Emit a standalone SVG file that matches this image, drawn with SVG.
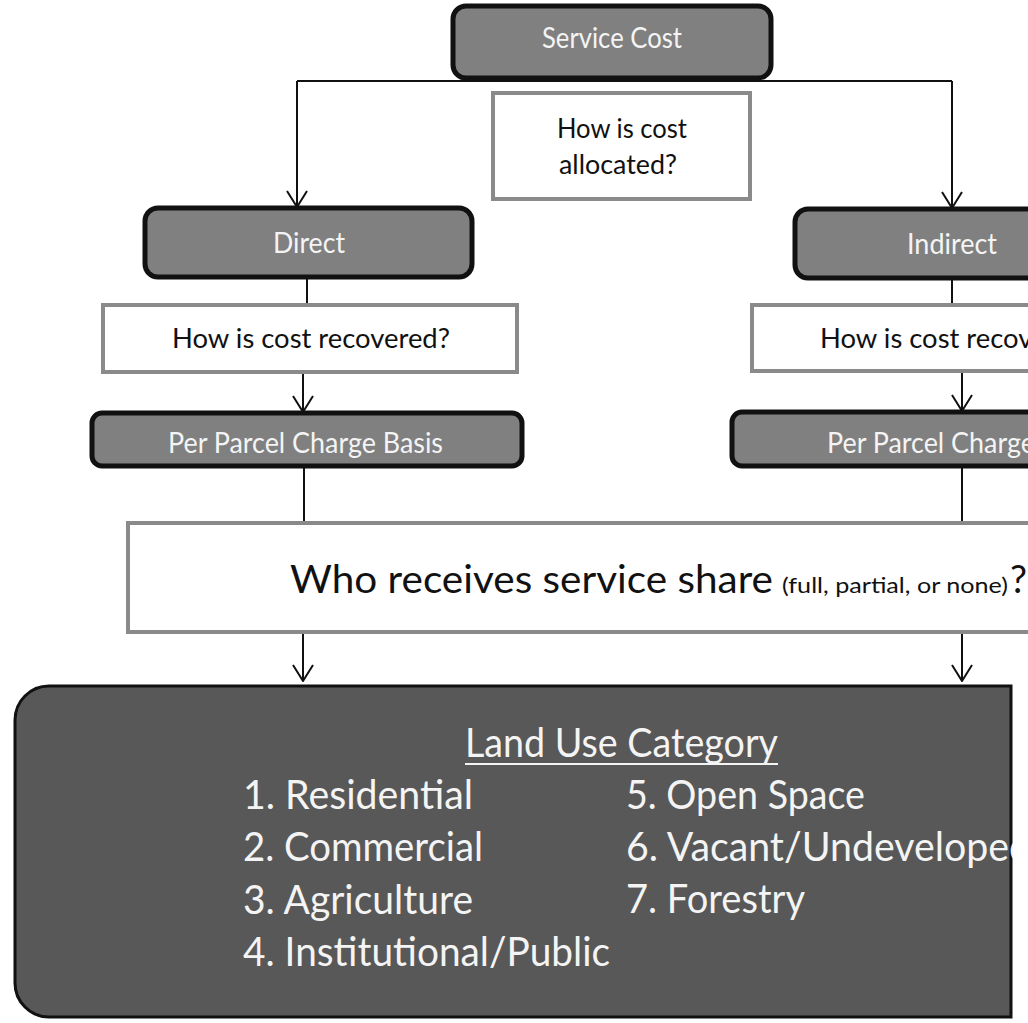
<svg xmlns="http://www.w3.org/2000/svg" width="1028" height="1023" viewBox="0 0 1028 1023">
<style>
  .dark { fill: #808080; stroke: #111; stroke-width: 5; }
  .q { fill: #ffffff; stroke: #8a8a8a; stroke-width: 4; }
  .wt { font-family: Lato, 'Open Sans', sans-serif; fill: #f4f4f4; }
  .bt { font-family: Lato, 'Open Sans', sans-serif; fill: #111; }
  .conn { fill: none; stroke: #111; stroke-width: 2; }
</style>
<defs>
  <marker id="vhead" viewBox="0 0 18 22" refX="17" refY="11" markerWidth="18" markerHeight="22" markerUnits="userSpaceOnUse" orient="auto">
    <path d="M1 1 L17 11 L1 21" fill="none" stroke="#111" stroke-width="2"/>
  </marker>
  <clipPath id="bigclip"><rect x="0" y="680" width="1013" height="343"/></clipPath>
</defs>
<rect width="1028" height="1023" fill="#ffffff"/>

<g id="connectors">
  <path class="conn" d="M297 81 H952"/>
  <path class="conn" d="M297 81 V207" marker-end="url(#vhead)"/>
  <path class="conn" d="M952 81 V208" marker-end="url(#vhead)"/>
  <path class="conn" d="M307 277 V305"/>
  <path class="conn" d="M952 279 V305"/>
  <path class="conn" d="M303 372 V412" marker-end="url(#vhead)"/>
  <path class="conn" d="M962 371 V411" marker-end="url(#vhead)"/>
  <path class="conn" d="M304 466 V523"/>
  <path class="conn" d="M962 466 V523"/>
  <path class="conn" d="M303 632 V681" marker-end="url(#vhead)"/>
  <path class="conn" d="M962 632 V681" marker-end="url(#vhead)"/>
</g>

<g id="service-cost">
  <rect class="dark" x="453" y="6" width="318" height="72" rx="13"/>
  <text class="wt" x="542" y="48" font-size="28" textLength="140" lengthAdjust="spacingAndGlyphs">Service Cost</text>
</g>

<g id="how-allocated">
  <rect class="q" x="493" y="93" width="257" height="106"/>
  <text class="bt" x="557" y="138" font-size="26" textLength="130" lengthAdjust="spacingAndGlyphs">How is cost</text>
  <text class="bt" x="559" y="174" font-size="26" textLength="118" lengthAdjust="spacingAndGlyphs">allocated?</text>
</g>

<g id="direct">
  <rect class="dark" x="145" y="208" width="327" height="69" rx="13"/>
  <text class="wt" x="273" y="253" font-size="28" textLength="72" lengthAdjust="spacingAndGlyphs">Direct</text>
</g>

<g id="indirect">
  <rect class="dark" x="795" y="209" width="330" height="69" rx="13"/>
  <text class="wt" x="907" y="254" font-size="28" textLength="90" lengthAdjust="spacingAndGlyphs">Indirect</text>
</g>

<g id="how-recovered-direct">
  <rect class="q" x="103" y="305" width="414" height="67"/>
  <text class="bt" x="172" y="348" font-size="27" textLength="278" lengthAdjust="spacingAndGlyphs">How is cost recovered?</text>
</g>

<g id="how-recovered-indirect">
  <rect class="q" x="752" y="305" width="414" height="66"/>
  <text class="bt" x="820" y="348" font-size="27" textLength="278" lengthAdjust="spacingAndGlyphs">How is cost recovered?</text>
</g>

<g id="per-parcel-direct">
  <rect class="dark" x="92" y="413" width="430" height="53" rx="10"/>
  <text class="wt" x="168" y="453" font-size="28" textLength="275" lengthAdjust="spacingAndGlyphs">Per Parcel Charge Basis</text>
</g>

<g id="per-parcel-indirect">
  <rect class="dark" x="732" y="412" width="430" height="54" rx="10"/>
  <text class="wt" x="827" y="453" font-size="28" textLength="275" lengthAdjust="spacingAndGlyphs">Per Parcel Charge Basis</text>
</g>

<g id="who-receives">
  <rect class="q" x="128" y="523" width="960" height="109"/>
  <text class="bt" x="290" y="593" font-size="38" textLength="483" lengthAdjust="spacingAndGlyphs">Who receives service share</text>
  <text class="bt" x="782" y="593" font-size="22" textLength="226" lengthAdjust="spacingAndGlyphs">(full, partial, or none)</text>
  <text class="bt" x="1010" y="593" font-size="38">?</text>
</g>

<g id="land-use-category" clip-path="url(#bigclip)">
  <path d="M49 686 H1011 V1017 H49 A34 34 0 0 1 15 983 V720 A34 34 0 0 1 49 686 Z" fill="#585858" stroke="#111" stroke-width="3"/>
  <text class="wt" x="465" y="757" font-size="40" textLength="313" lengthAdjust="spacingAndGlyphs">Land Use Category</text>
  <line x1="465" y1="764" x2="778" y2="764" stroke="#f4f4f4" stroke-width="2"/>
  <text class="wt" x="243" y="809" font-size="40" textLength="230" lengthAdjust="spacingAndGlyphs">1. Residential</text>
  <text class="wt" x="243" y="861" font-size="40" textLength="240" lengthAdjust="spacingAndGlyphs">2. Commercial</text>
  <text class="wt" x="243" y="914" font-size="40" textLength="230" lengthAdjust="spacingAndGlyphs">3. Agriculture</text>
  <text class="wt" x="243" y="966" font-size="40" textLength="367" lengthAdjust="spacingAndGlyphs">4. Institutional/Public</text>
  <text class="wt" x="626" y="809" font-size="40" textLength="239" lengthAdjust="spacingAndGlyphs">5. Open Space</text>
  <text class="wt" x="626" y="861" font-size="40" textLength="405" lengthAdjust="spacingAndGlyphs">6. Vacant/Undeveloped</text>
  <text class="wt" x="626" y="913" font-size="40" textLength="179" lengthAdjust="spacingAndGlyphs">7. Forestry</text>
</g>
</svg>
